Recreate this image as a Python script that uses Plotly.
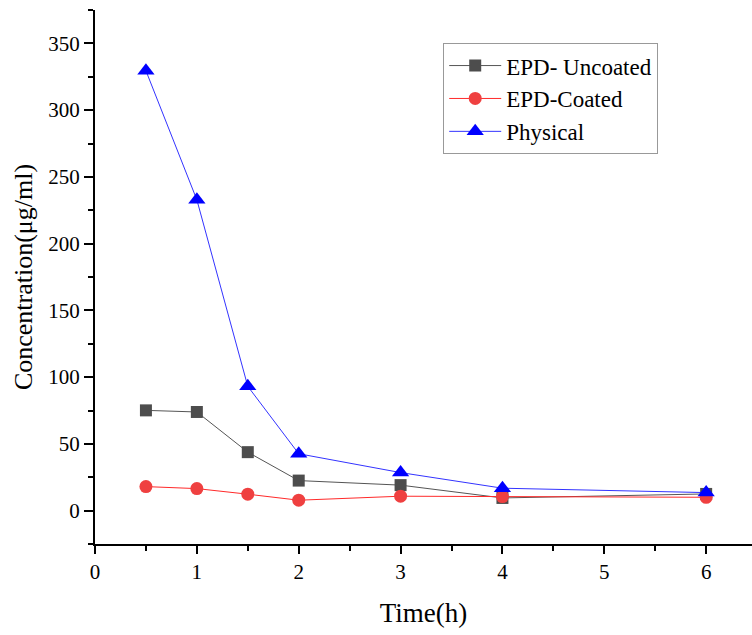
import plotly.graph_objects as go

time_h = [0.5, 1, 1.5, 2, 3, 4, 6]
epd_uncoated = [75.1, 73.9, 43.8, 22.5, 19.1, 9.5, 12.5]
epd_coated = [18.0, 16.5, 12.3, 7.8, 10.8, 10.5, 10.0]
physical = [329.5, 232.8, 93.1, 42.6, 28.5, 16.8, 13.5]

FONT = "Liberation Serif"

fig = go.Figure()
fig.add_trace(go.Scatter(
    x=time_h, y=epd_uncoated, name="EPD- Uncoated", mode="lines+markers",
    line=dict(color="#555555", width=1),
    marker=dict(symbol="square", size=12, color="#4d4d4d"),
))
fig.add_trace(go.Scatter(
    x=time_h, y=epd_coated, name="EPD-Coated", mode="lines+markers",
    line=dict(color="#ff2a2a", width=1),
    marker=dict(symbol="circle", size=13, color="#ef4040"),
))
fig.add_trace(go.Scatter(
    x=time_h, y=physical, name="Physical", mode="lines+markers",
    line=dict(color="#3333ff", width=1),
    marker=dict(symbol="triangle-up", size=15, color="#0000ff"),
))

fig.update_layout(
    width=752, height=635,
    margin=dict(l=95, r=0, t=10, b=91),
    paper_bgcolor="white", plot_bgcolor="white",
    font=dict(family=FONT, color="black", size=21),
    legend=dict(
        x=0.53, y=0.938, xanchor="left", yanchor="top",
        bordercolor="#999999", borderwidth=1, bgcolor="white",
        font=dict(family=FONT, size=23), tracegroupgap=0,
        itemwidth=52,
    ),
    showlegend=True,
)
fig.update_xaxes(
    range=[0, 6.45], dtick=1, tick0=0, automargin=False,
    showline=True, linecolor="black", linewidth=2,
    ticks="outside", ticklen=8, tickwidth=2, tickcolor="black",
    minor=dict(dtick=0.5, ticks="outside", ticklen=5, tickwidth=2, tickcolor="black"),
    showgrid=False, zeroline=False,
    tickfont=dict(family=FONT, size=21),
    title=dict(text="Time(h)", font=dict(family=FONT, size=27), standoff=20),
)
fig.update_yaxes(
    range=[-25, 375], dtick=50, tick0=0, automargin=False,
    showline=True, linecolor="black", linewidth=2,
    ticks="outside", ticklen=9, tickwidth=2, tickcolor="black",
    minor=dict(dtick=25, ticks="outside", ticklen=5, tickwidth=2, tickcolor="black"),
    showgrid=False, zeroline=False,
    tickfont=dict(family=FONT, size=21),
    title=dict(text="Concentration(μg/ml)", font=dict(family=FONT, size=26), standoff=8),
)

fig.write_html(
    "out.html",
    config={"displayModeBar": False},
    post_script="document.body.style.margin='0';document.body.style.overflow='hidden';",
)
